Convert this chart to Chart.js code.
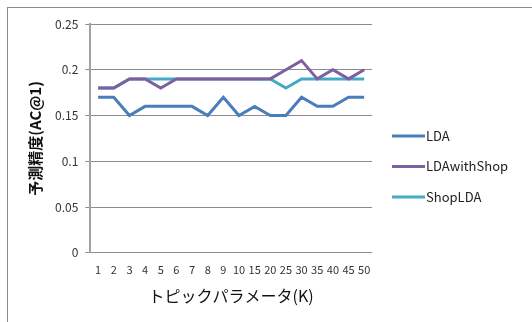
<!DOCTYPE html>
<html><head><meta charset="utf-8">
<script src="https://cdn.jsdelivr.net/npm/chart.js@4/dist/chart.umd.min.js"></script>
<style>
html,body{margin:0;padding:0;background:#fff;}
#wrap{position:absolute;left:0;top:0;width:532px;height:322px;}
#frame{position:absolute;left:7px;top:7px;width:525px;height:315px;border-left:1.5px solid #8a8a8a;border-top:1.5px solid #8a8a8a;box-sizing:border-box;}
canvas{position:absolute;left:0;top:0;}
</style></head>
<body>
<div id="wrap"><div id="frame"></div><canvas id="c" width="532" height="322"></canvas></div>
<script>
const categories = ["1","2","3","4","5","6","7","8","9","10","15","20","25","30","35","40","45","50"];
const seriesNames = ["LDA","LDAwithShop","ShopLDA"];
const lda         = [0.17,0.17,0.15,0.16,0.16,0.16,0.16,0.15,0.17,0.15,0.16,0.15,0.15,0.17,0.16,0.16,0.17,0.17];
const ldaWithShop = [0.18,0.18,0.19,0.19,0.18,0.19,0.19,0.19,0.19,0.19,0.19,0.19,0.20,0.21,0.19,0.20,0.19,0.20];
const shopLda     = [0.18,0.18,0.19,0.19,0.19,0.19,0.19,0.19,0.19,0.19,0.19,0.19,0.18,0.19,0.19,0.19,0.19,0.19];
const yTicks = [0,0.05,0.1,0.15,0.2,0.25];
const colors = ["#4a7ebb","#7d60a0","#46aac5"];
const values = [lda, ldaWithShop, shopLda];

const jp = "'Noto Sans CJK JP', 'Noto Sans', sans-serif";

const sideLegend = {
  id: 'sideLegend',
  afterDraw(chart) {
    const ctx = chart.ctx;
    const x0 = chart.chartArea.right + 20;
    const yStart = 136, step = 30.5;
    ctx.save();
    ctx.font = "13px " + jp;
    ctx.textBaseline = 'middle';
    ctx.textAlign = 'left';
    chart.data.datasets.forEach((ds, i) => {
      const y = yStart + i * step;
      ctx.strokeStyle = ds.borderColor;
      ctx.lineWidth = 3;
      ctx.beginPath();
      ctx.moveTo(x0, y);
      ctx.lineTo(x0 + 33, y);
      ctx.stroke();
      ctx.fillStyle = '#222';
      ctx.fillText(ds.label, x0 + 34, y);
    });
    ctx.restore();
  }
};

new Chart(document.getElementById('c'), {
  type: 'line',
  data: {
    labels: categories,
    datasets: seriesNames.map((n,i)=>({
      label: n, data: values[i], borderColor: colors[i], backgroundColor: colors[i],
      borderWidth: 3, pointRadius: 0, pointHoverRadius: 0, tension: 0, fill: false
    }))
  },
  options: {
    responsive: false, animation: false,
    layout: { padding: { left: 22, top: 24, right: 160, bottom: 18 } },
    plugins: {
      tooltip: { enabled: false },
      legend: { display: false }
    },
    scales: {
      x: {
        offset: true,
        grid: { display: false, drawTicks: false },
        border: { display: false },
        ticks: { autoSkip: false, maxRotation: 0, minRotation: 0, padding: 10,
                 font: { family: jp, size: 11 }, color: '#333' },
        title: { display: true, text: 'トピックパラメータ(K)', font: { family: jp, size: 16, lineHeight: 1.0 }, color: '#111', padding: { top: 2, bottom: 0 } }
      },
      y: {
        min: 0, max: 0.25,
        afterBuildTicks: (s) => { s.ticks = yTicks.map(v => ({ value: v })); },
        grid: { color: '#8c8c8c', lineWidth: 1, tickLength: 5 },
        border: { color: '#a0a0a0', width: 2 },
        ticks: { padding: 7, font: { family: jp, size: 12 }, color: '#333',
                 callback: (v) => String(Number(v.toFixed(2))) },
        title: { display: true, text: '予測精度(AC@1)', font: { family: jp, size: 15, weight: 'bold' }, color: '#111', padding: { bottom: 4 } }
      }
    }
  },
  plugins: [sideLegend]
});
</script>
</body></html>
